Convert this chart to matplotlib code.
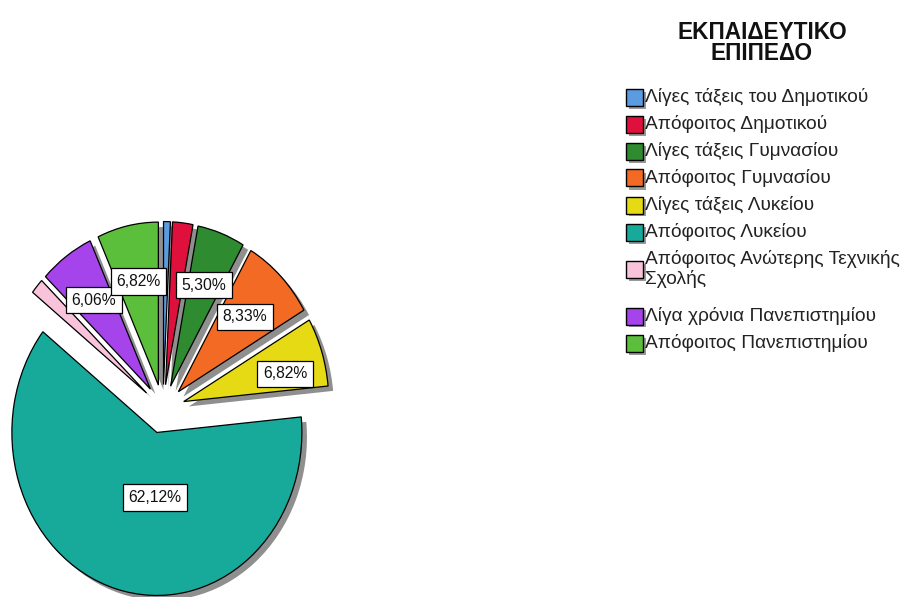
import matplotlib
matplotlib.use("Agg")
import matplotlib.pyplot as plt
import numpy as np
from matplotlib.patches import Rectangle

categories = [
    "Λίγες τάξεις του Δημοτικού",
    "Απόφοιτος Δημοτικού",
    "Λίγες τάξεις Γυμνασίου",
    "Απόφοιτος Γυμνασίου",
    "Λίγες τάξεις Λυκείου",
    "Απόφοιτος Λυκείου",
    "Απόφοιτος Ανώτερης Τεχνικής\nΣχολής",
    "Λίγα χρόνια Πανεπιστημίου",
    "Απόφοιτος Πανεπιστημίου",
]
percentages = [0.76, 2.27, 5.30, 8.33, 6.82, 62.12, 1.52, 6.06, 6.82]
colors = ["#5B9BE0", "#E0103C", "#2E8B30", "#F26A24", "#E6DA14",
          "#17A99A", "#F9C3DC", "#A444EA", "#5CBF3B"]
legend_title = "ΕΚΠΑΙΔΕΥΤΙΚΟ\nΕΠΙΠΕΔΟ"

FONT = ["Liberation Sans", "DejaVu Sans"]
plt.rcParams["font.family"] = FONT

W, H = 904, 597
fig = plt.figure(figsize=(W / 100, H / 100), dpi=100)
fig.patch.set_facecolor("white")

# pie geometry (pixels)
cx, cy = 163, 409          # pie centre, from top-left
rx, ry = 145, 163          # horizontal / vertical radius in px
ax_w = 420
ax = fig.add_axes([0, 0, ax_w / W, 1])

explode = [0.15] * len(percentages)

# shadow pie
ax.pie(percentages, explode=explode, startangle=90, counterclock=False,
       colors=["#8f8f8f"] * len(percentages), center=(0.035, -0.03),
       wedgeprops=dict(linewidth=0, zorder=0.5), frame=False)

wedges, _ = ax.pie(percentages, explode=explode, startangle=90,
                   counterclock=False, colors=colors, center=(0, 0),
                   wedgeprops=dict(edgecolor="black", linewidth=0.9, zorder=1),
                   frame=False)

ax.set_aspect("auto")
ax.set_xlim(-cx / rx, (ax_w - cx) / rx)
ax.set_ylim(-(H - cy) / ry, cy / ry)
ax.axis("off")

label_r = [0.66, 0.66, 0.66, 0.65, 0.72, 0.40, 0.66, 0.67, 0.65]
label_dth = [0, 0, 0, 0, -4, 14.5, 0, 0, 0]   # small angular nudges (deg)
for w, p, r, d in zip(wedges, percentages, label_r, label_dth):
    if p < 5:
        continue
    th = np.deg2rad((w.theta1 + w.theta2) / 2 + d)
    x = w.center[0] + r * np.cos(th)
    y = w.center[1] + r * np.sin(th)
    ax.text(x, y, f"{p:.2f}".replace(".", ",") + "%", ha="center", va="center",
            fontsize=11.3, color="#111111", zorder=5,
            bbox=dict(boxstyle="square,pad=0.36", facecolor="white",
                      edgecolor="black", linewidth=0.9))

# ---- legend (drawn in figure pixel coordinates) ----
def fx(px):
    return px / W

def fy(py):
    return 1 - py / H

fig.text(fx(762), fy(60), legend_title, ha="center", va="baseline",
         fontsize=16.3, fontweight="bold", color="#111111",
         linespacing=0.91, multialignment="center")

sq = 17          # square size px
row_step = 27    # px between single-line rows
line_step = 20   # px between lines of one entry
y = 97
for lab, col in zip(categories, colors):
    n = lab.count("\n") + 1
    yc = y + (n - 1) * line_step / 2
    fig.patches.append(Rectangle((fx(626 + 3), fy(yc + sq / 2 + 3)), sq / W, sq / H,
                                 transform=fig.transFigure, facecolor="#9a9a9a",
                                 edgecolor="none", zorder=1))
    fig.patches.append(Rectangle((fx(626), fy(yc + sq / 2)), sq / W, sq / H,
                                 transform=fig.transFigure, facecolor=col,
                                 edgecolor="black", linewidth=1.0, zorder=2))
    fig.text(fx(645), fy(yc), lab, ha="left", va="center", fontsize=13.8,
             color="#222222", linespacing=1.08)
    y += row_step + (n - 1) * (line_step + 10)

fig.savefig("out.png", dpi=100, facecolor="white")
